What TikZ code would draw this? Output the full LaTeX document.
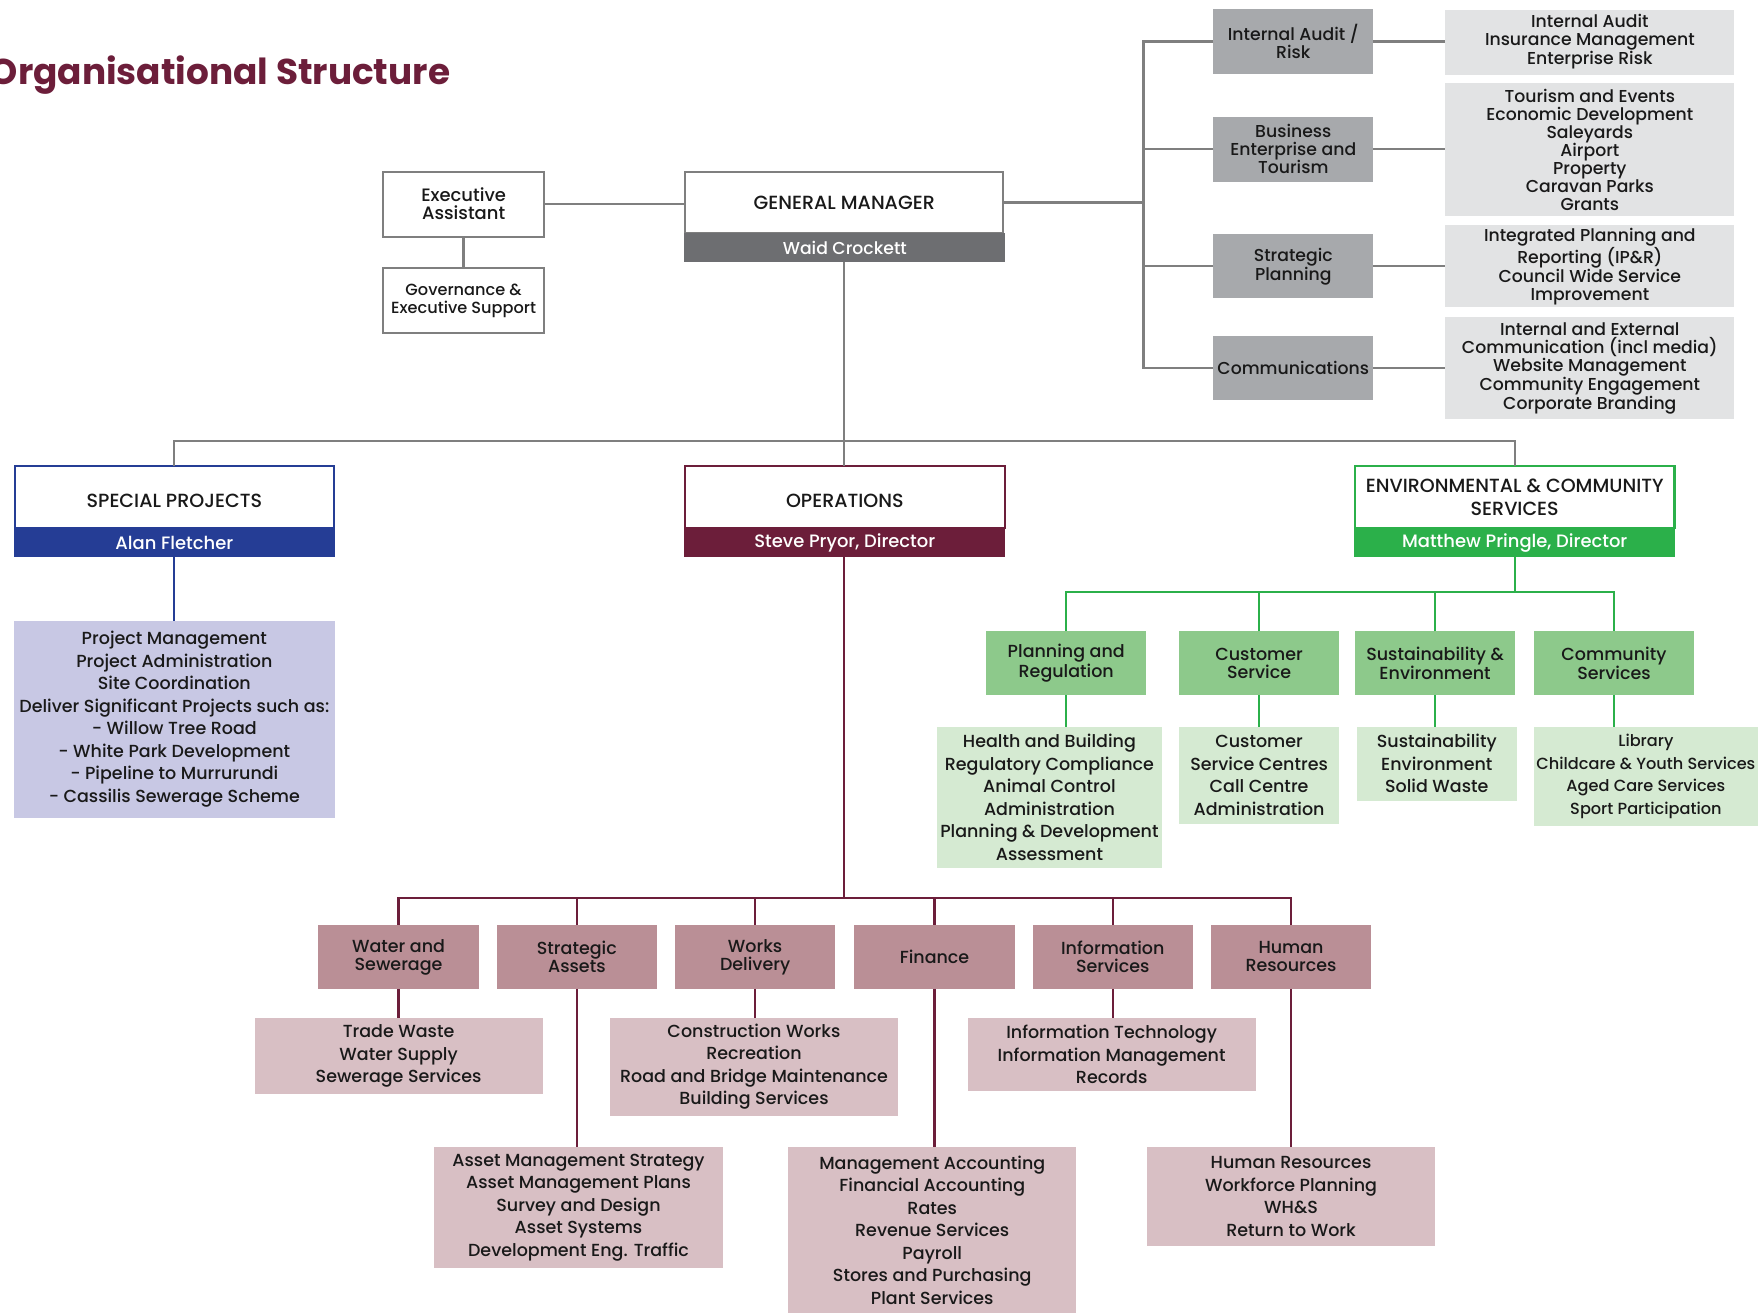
\documentclass[tikz,border=0pt]{standalone}
\usepackage{fontspec}
\setmainfont{Poppins Medium}
\newfontfamily\titlef{Poppins}
\definecolor{ttl}{HTML}{6C1E3A}
\definecolor{lnGray}{HTML}{7F7F7F}
\definecolor{gmBar}{HTML}{6D6E71}
\definecolor{midGray}{HTML}{A7A9AC}
\definecolor{ltGray}{HTML}{E2E3E4}
\definecolor{spBlue}{HTML}{253D95}
\definecolor{lav}{HTML}{C8C8E4}
\definecolor{mar}{HTML}{6C1E3A}
\definecolor{rose}{HTML}{BA8F96}
\definecolor{pinkL}{HTML}{D8BFC4}
\definecolor{grn}{HTML}{2BB04A}
\definecolor{grnM}{HTML}{8DC98B}
\definecolor{grnL}{HTML}{D5EAD2}
\tikzset{
  every node/.style={inner sep=0pt, outer sep=0pt, align=center, text=black!90},
  topf/.style={font=\fontsize{15.4}{16}\selectfont},
  unitf/.style={font=\fontsize{15.6}{16}\selectfont},
  lowf/.style={font=\fontsize{15.6}{20.1}\selectfont},
  hdrf/.style={font=\fontsize{17}{20}\selectfont},
  barf/.style={font=\fontsize{16}{20}\selectfont, text=white},
  wbox/.style={draw=lnGray, line width=1.8pt, fill=white, topf},
  gbox/.style={fill=midGray, topf},
  lbox/.style={fill=ltGray, topf},
  hdrbox/.style={line width=1.8pt, fill=white, hdrf, minimum width=285pt, minimum height=55pt},
  hdrone/.style={text height=17.4pt, text depth=0pt},
  barbox/.style={barf, minimum width=286pt, minimum height=26pt},
  gline/.style={draw=lnGray, line width=2pt},
  mline/.style={draw=mar, line width=2pt},
  nline/.style={draw=grn, line width=2pt},
  bline/.style={draw=spBlue, line width=2pt},
  unit/.style={minimum width=143pt, minimum height=57pt},
  opbox/.style={fill=rose, unitf, unit},
  opsub/.style={fill=pinkL, lowf, minimum width=257pt},
  gnbox/.style={fill=grnM, unitf, unit},
  gnsub/.style={fill=grnL, lowf}
}
\begin{document}
\begin{tikzpicture}[x=1pt,y=-1pt]
\useasboundingbox (0,0) rectangle (1568,1171);

% title
\node[anchor=base west, font=\titlef\bfseries\fontsize{32}{32}\selectfont, text=ttl] (title) at (-9,75) {Organisational Structure};

% executive
\node[wbox, minimum width=143pt, minimum height=58pt, font=\fontsize{16}{16}\selectfont] (ea) at (413.5,182) {Executive\\Assistant};
\node[wbox, minimum width=143pt, minimum height=58pt, font=\fontsize{14.4}{16}\selectfont] (gov) at (413.5,268) {Governance \&\\Executive Support};
\node[wbox, minimum width=284pt, minimum height=55pt, font=\fontsize{17}{18}\selectfont] (gm) at (753,180.5) {GENERAL MANAGER};
\node[barbox, fill=gmBar, font=\fontsize{15.4}{18}\selectfont] (gmbar) at (753.5,221) {Waid Crockett};

% right column
\node[gbox, minimum width=143pt, minimum height=58pt] (ia) at (1153.5,37) {Internal Audit /\\Risk};
\node[gbox, minimum width=143pt, minimum height=58pt] (be) at (1153.5,133) {Business\\Enterprise and\\Tourism};
\node[gbox, minimum width=143pt, minimum height=57pt] (spl) at (1153.5,237.5) {Strategic\\Planning};
\node[gbox, minimum width=143pt, minimum height=57pt] (cm) at (1153.5,328.5) {Communications};

\node[lbox, minimum width=258pt, minimum height=58pt] (iad) at (1418,37.5) {Internal Audit\\Insurance Management\\Enterprise Risk};
\node[lbox, minimum width=258pt, minimum height=119pt] (bed) at (1418,133.5) {Tourism and Events\\Economic Development\\Saleyards\\Airport\\Property\\Caravan Parks\\Grants};
\node[lbox, minimum width=258pt, minimum height=73pt] (spd) at (1418,237.5) {Integrated Planning and\\Reporting (IP\&R)\\Council Wide Service\\Improvement};
\node[lbox, minimum width=258pt, minimum height=91pt] (cmd) at (1418,328.5) {Internal and External\\Communication (incl media)\\Website Management\\Community Engagement\\Corporate Branding};

% directorates
\node[hdrbox, hdrone, draw=spBlue] (sp) at (155.5,443.5) {SPECIAL PROJECTS};
\node[barbox, fill=spBlue] (spbar) at (155.5,484) {Alan Fletcher};
\node[fill=lav, minimum width=286pt, minimum height=176pt, lowf] (spd2) at (155.5,641.5) {Project Management\\Project Administration\\Site Coordination\\Deliver Significant Projects such as:\\- Willow Tree Road\\- White Park Development\\- Pipeline to Murrurundi\\- Cassilis Sewerage Scheme};

\node[hdrbox, hdrone, draw=mar] (ops) at (753.5,443.5) {OPERATIONS};
\node[barbox, fill=mar] (opsbar) at (753.5,484) {Steve Pryor, Director};

\node[hdrbox, draw=grn] (env) at (1351,443.5) {ENVIRONMENTAL \& COMMUNITY\\SERVICES};
\node[barbox, fill=grn] (envbar) at (1351,484) {Matthew Pringle, Director};

% operations units
\node[opbox] (ws) at (355.5,853.5) {Water and\\Sewerage};
\node[opbox] (sa) at (514.5,853.5) {Strategic\\Assets};
\node[opbox] (wd) at (673.5,853.5) {Works\\Delivery};
\node[opbox] (fi) at (833.5,853.5) {Finance};
\node[opbox] (is) at (992.5,853.5) {Information\\Services};
\node[opbox] (hr) at (1151.5,853.5) {Human\\Resources};

\node[opsub, minimum height=68pt] (tw) at (355.5,942) {Trade Waste\\Water Supply\\Sewerage Services};
\node[opsub, minimum height=87pt] (cw) at (672.5,951.5) {Construction Works\\Recreation\\Road and Bridge Maintenance\\Building Services};
\node[opsub, minimum height=65pt] (it) at (991.5,940.5) {Information Technology\\Information Management\\Records};
\node[opsub, minimum height=108pt] (am) at (516,1077) {Asset Management Strategy\\Asset Management Plans\\Survey and Design\\Asset Systems\\Development Eng. Traffic};
\node[opsub, minimum height=148pt] (ma) at (831.5,1097) {Management Accounting\\Financial Accounting\\Rates\\Revenue Services\\Payroll\\Stores and Purchasing\\Plant Services};
\node[opsub, minimum height=88pt] (hrd) at (1151.5,1067) {Human Resources\\Workforce Planning\\WH\&S\\Return to Work};

% environmental units
\node[gnbox] (pr) at (951,591.5) {Planning and\\Regulation};
\node[gnbox] (cs) at (1123,591.5) {Customer\\Service};
\node[gnbox] (se) at (1280,591.5) {Sustainability \&\\Environment};
\node[gnbox] (cms) at (1439.5,591.5) {Community\\Services};

\node[gnsub, minimum width=200pt, minimum height=126pt] (hb) at (936,711) {Health and Building\\Regulatory Compliance\\Animal Control\\Administration\\Planning \& Development\\Assessment};
\node[gnsub, minimum width=142pt, minimum height=87pt] (csd) at (1123,691.5) {Customer\\Service Centres\\Call Centre\\Administration};
\node[gnsub, minimum width=143pt, minimum height=66pt] (sed) at (1281.5,681) {Sustainability\\Environment\\Solid Waste};
\node[gnsub, minimum width=200pt, minimum height=89pt, font=\fontsize{14.4}{20.1}\selectfont] (cmsd) at (1468,692.5) {Library\\Childcare \& Youth Services\\Aged Care Services\\Sport Participation};

% coordinates for buses
\coordinate (rbus) at (1020,180.5);
\coordinate (mbus) at (753,393);
\coordinate (obus) at (753,801);
\coordinate (ebus) at (1351,528);

% connectors: top
\draw[gline] (ea.east) -- (ea.east -| gm.west);
\draw[gline] (ea.south) -- (gov.north);
\draw[gline] (gm.east) -- (rbus);
\draw[gline] (ia.west) -| (rbus);
\draw[gline] (cm.west) -| (rbus);
\draw[gline] (be.west) -- (be.west -| rbus);
\draw[gline] (spl.west) -- (spl.west -| rbus);
\draw[gline] (ia.east) -- (ia.east -| iad.west);
\draw[gline] (be.east) -- (be.east -| bed.west);
\draw[gline] (spl.east) -- (spl.east -| spd.west);
\draw[gline] (cm.east) -- (cm.east -| cmd.west);
\draw[gline] (gmbar.south -| mbus) -- (ops.north -| mbus);
\draw[gline] (sp.north) |- (mbus) -| (env.north);

% special projects
\draw[bline] (spbar.south) -- (spd2.north);

% operations
\draw[mline] (opsbar.south -| obus) -- (obus);
\draw[mline] (ws.north) |- (obus) -| (hr.north);
\draw[mline] (sa.north) -- (sa.north |- obus);
\draw[mline] (wd.north) -- (wd.north |- obus);
\draw[mline] (fi.north) -- (fi.north |- obus);
\draw[mline] (is.north) -- (is.north |- obus);
\draw[mline] (ws.south) -- (ws.south |- tw.north);
\draw[mline] (sa.south) -- (sa.south |- am.north);
\draw[mline] (wd.south) -- (wd.south |- cw.north);
\draw[mline] (fi.south) -- (fi.south |- ma.north);
\draw[mline] (is.south) -- (is.south |- it.north);
\draw[mline] (hr.south) -- (hr.south |- hrd.north);

% environmental
\draw[nline] (envbar.south) -- (ebus);
\draw[nline] (pr.north) |- (ebus) -| (cms.north);
\draw[nline] (cs.north) -- (cs.north |- ebus);
\draw[nline] (se.north) -- (se.north |- ebus);
\draw[nline] (pr.south) -- (pr.south |- hb.north);
\draw[nline] (cs.south) -- (cs.south |- csd.north);
\draw[nline] (se.south) -- (se.south |- sed.north);
\draw[nline] (cms.south) -- (cms.south |- cmsd.north);
\end{tikzpicture}
\end{document}
